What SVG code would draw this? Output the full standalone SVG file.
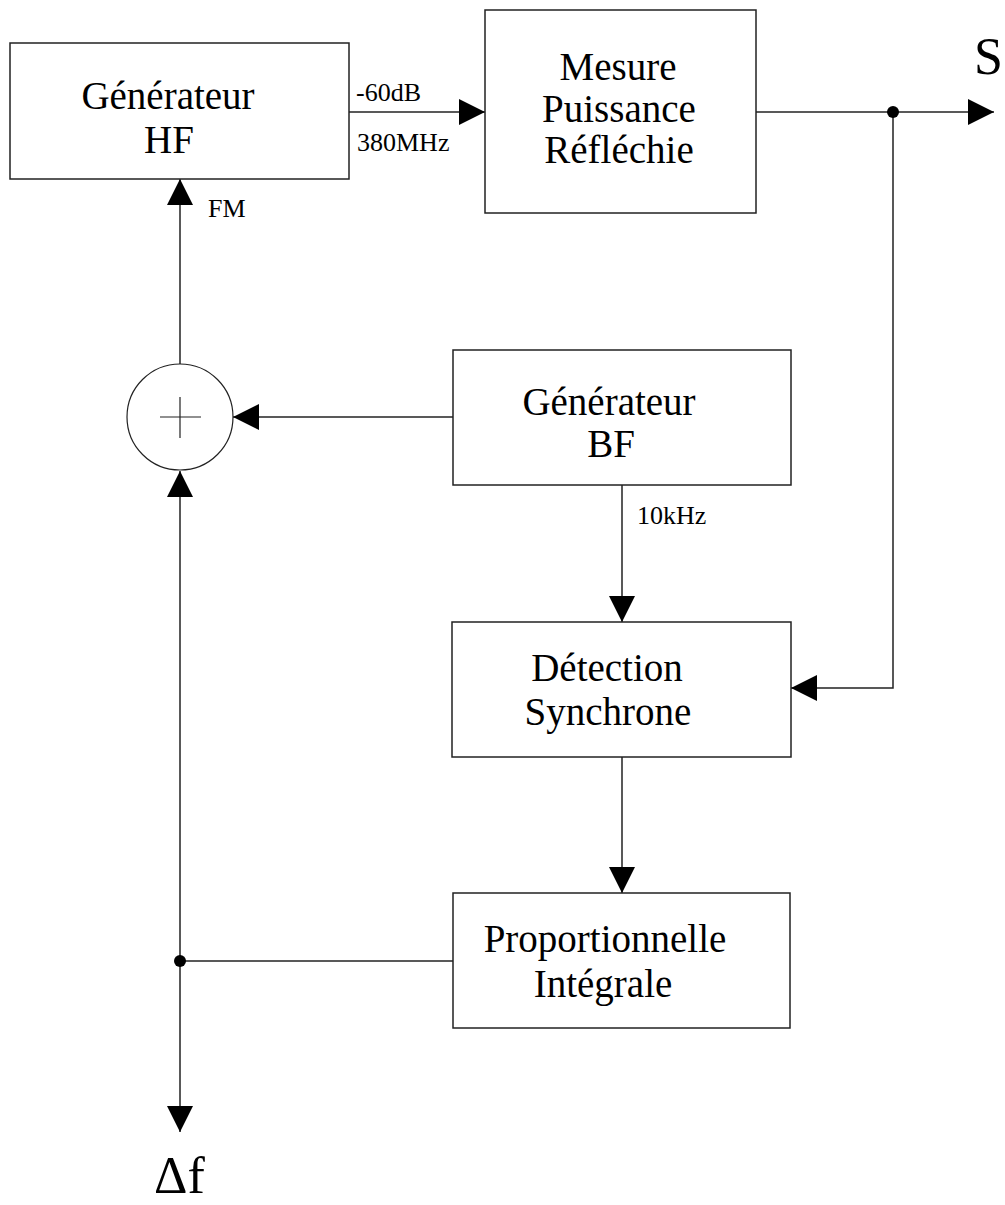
<svg xmlns="http://www.w3.org/2000/svg" width="1005" height="1205" viewBox="0 0 1005 1205">
<style>
.box{fill:#fff;stroke:#222;stroke-width:1.5}
.ln{fill:none;stroke:#222;stroke-width:1.5}
.big{font-family:"Liberation Serif","Times New Roman",serif;font-size:39px;fill:#000;text-anchor:middle}
.sm{font-family:"Liberation Serif","Times New Roman",serif;font-size:26px;fill:#000}
.huge{font-family:"Liberation Serif","Times New Roman",serif;font-size:52px;fill:#000}
</style>
<defs>
<marker id="arr" markerUnits="userSpaceOnUse" markerWidth="27" markerHeight="27" refX="26" refY="13" orient="auto">
<path d="M0,0 L26,13 L0,26 z" fill="#000"/>
</marker>
</defs>
<rect width="1005" height="1205" fill="#fff"/>
<g id="connectors">
<line class="ln" x1="349" y1="112" x2="485" y2="112" marker-end="url(#arr)"/>
<line class="ln" x1="756" y1="112" x2="994" y2="112" marker-end="url(#arr)"/>
<polyline class="ln" points="893,112 893,688 791,688" marker-end="url(#arr)"/>
<line class="ln" x1="180" y1="364" x2="180" y2="179" marker-end="url(#arr)"/>
<line class="ln" x1="453" y1="417" x2="233" y2="417" marker-end="url(#arr)"/>
<line class="ln" x1="180" y1="961" x2="180" y2="471" marker-end="url(#arr)"/>
<line class="ln" x1="180" y1="961" x2="180" y2="1132" marker-end="url(#arr)"/>
<line class="ln" x1="180" y1="961" x2="453" y2="961"/>
<line class="ln" x1="622" y1="485" x2="622" y2="622" marker-end="url(#arr)"/>
<line class="ln" x1="622" y1="757" x2="622" y2="893" marker-end="url(#arr)"/>
<circle cx="893" cy="112" r="6" fill="#000"/>
<circle cx="180" cy="961" r="6" fill="#000"/>
<text class="sm" x="356" y="101">-60dB</text>
<text class="sm" x="357" y="151">380MHz</text>
<text class="sm" x="208" y="217">FM</text>
<text class="sm" x="637" y="524">10kHz</text>
<text class="huge" x="974" y="74">S</text>
<text class="huge" x="154" y="1193">Δf</text>
</g>
<g id="gen-hf">
<rect class="box" x="10" y="43" width="339" height="136"/>
<text class="big" x="168" y="109">Générateur</text>
<text class="big" x="169" y="153">HF</text>
</g>
<g id="mesure">
<rect class="box" x="485" y="10" width="271" height="203"/>
<text class="big" x="618" y="80">Mesure</text>
<text class="big" x="619" y="122">Puissance</text>
<text class="big" x="619" y="163">Réfléchie</text>
</g>
<g id="sommateur">
<circle cx="180" cy="417" r="53" fill="#fff" stroke="#222" stroke-width="1.2"/>
<path d="M160,417 H201 M180,397 V438" stroke="#222" stroke-width="1.2" fill="none"/>
</g>
<g id="gen-bf">
<rect class="box" x="453" y="350" width="338" height="135"/>
<text class="big" x="609" y="415">Générateur</text>
<text class="big" x="611" y="457">BF</text>
</g>
<g id="detection">
<rect class="box" x="452" y="622" width="339" height="135"/>
<text class="big" x="607" y="681">Détection</text>
<text class="big" x="608" y="725">Synchrone</text>
</g>
<g id="pi">
<rect class="box" x="453" y="893" width="337" height="135"/>
<text class="big" x="605" y="952">Proportionnelle</text>
<text class="big" x="603" y="997">Intégrale</text>
</g>
</svg>
